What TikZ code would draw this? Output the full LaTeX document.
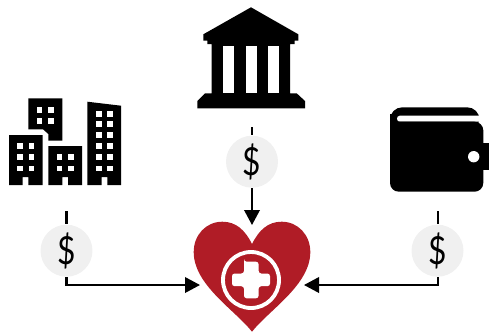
\documentclass[tikz,border=0pt]{standalone}
\usepackage{fontspec}
\setmainfont{Lato}
\usetikzlibrary{arrows.meta}
\definecolor{heartred}{HTML}{B01C26}
\definecolor{badgegray}{HTML}{F0F0F0}
\newcommand{\dollarsign}{\scalebox{0.82}[1]{\$}}
\tikzset{
  badge/.style={circle,fill=badgegray,minimum size=1.04cm,inner sep=0pt,font=\fontsize{22}{22}\selectfont},
  flow/.style={line width=1.15pt},
  flowtip/.style={flow,-{Triangle[length=0.3cm,width=0.31cm]}},
  pane/.style={fill=white}
}
\begin{document}
\begin{tikzpicture}[x=0.02cm,y=-0.02cm]
  \useasboundingbox (0,0) rectangle (489,332);
  % buildings
  \fill (9,135) -- (42.7,135) -- (42.7,185) -- (28.3,185) -- (28.3,177) -- (22.7,177) -- (22.7,185) -- (9,185) -- cycle;
  \fill (28.3,98.3) -- (62.3,98.3) -- (62.3,140.7) -- (48.3,140.7) -- (48.3,134) -- (43,129.3) -- (28.3,129.3) -- cycle;
  \fill (48.3,146) -- (82,146) -- (82,185) -- (68,185) -- (68,177) -- (62.3,177) -- (62.3,185) -- (48.3,185) -- cycle;
  \fill (87.3,101.7) -- (121,105.7) -- (121,185) -- (107.3,185) -- (107.3,177) -- (101.7,177) -- (101.7,185) -- (87.3,185) -- cycle;
  \foreach \y in {143.3,154.3,165.7}
    \foreach \x in {17.3,28.5}
      \fill[pane] (\x,\y) rectangle +(5.6,5.6);
  \foreach \y in {107.3,118.3}
    \foreach \x in {36.7,48.3}
      \fill[pane] (\x,\y) rectangle +(5.6,5.6);
  \foreach \y in {154.3,165.7}
    \foreach \x in {56.7,68}
      \fill[pane] (\x,\y) rectangle +(5.6,5.6);
  \foreach \y in {111.3,121,132.3,143.3,154.3,165.7}
    \foreach \x in {96,107.3}
      \fill[pane] (\x,\y) rectangle +(5.6,5.6);
  % bank
  \fill (251,7.3) -- (298.3,34.3) -- (298.3,40.7) -- (294.5,40.7) -- (294.5,44) -- (290,44) -- (290,93.3) -- (296.7,93.3)
    -- (305,101) -- (305,108.3) -- (197.3,108.3) -- (197.3,101) -- (205,93.3) -- (211.7,93.3) -- (211.7,44)
    -- (207.3,44) -- (207.3,40.7) -- (203.3,40.7) -- (203.3,34.3) -- cycle;
  \foreach \x in {223.3,245.7,268}
    \fill[pane] (\x,45.7) rectangle +(11,47.6);
  % wallet
  \fill[rounded corners=7pt] (390,107.3) rectangle (479.5,130);
  \fill (390,114) rectangle (400,140);
  \fill[pane,rounded corners=1.6pt] (397,115.7) rectangle (486,121.7);
  \fill[rounded corners=5pt] (390,121.7) rectangle (483.3,191.7);
  \fill (483,143) rectangle (489,170);
  \fill[pane] (473.7,156.7) circle (5.7);
  % heart
  \fill[heartred] (252,244) .. controls (245,230) and (236,221.7) .. (222.3,221.7)
    .. controls (206,221.7) and (193.7,235) .. (193.7,252)
    .. controls (193.7,285) and (235,310) .. (252,331.7)
    .. controls (269,310) and (310.3,285) .. (310.3,252)
    .. controls (310.3,235) and (298,221.7) .. (281.7,221.7)
    .. controls (268,221.7) and (259,230) .. (252,244) -- cycle;
  \draw[white,line width=2.2pt] (251,280) circle (28);
  \fill[pane,rounded corners=1.5pt] (244,261.7) -- (258.6,261.7) -- (258.6,273.5) -- (270,273.5) -- (270,286.2) -- (258.6,286.2)
    -- (258.6,298.3) -- (244,298.3) -- (244,286.2) -- (232,286.2) -- (232,273.5) -- (244,273.5) -- (244,261.7) -- cycle;
  % money flows
  \node[badge] (citybadge) at (66.5,250.7) {\dollarsign};
  \node[badge] (bankbadge) at (252,161.7) {\dollarsign};
  \node[badge] (walletbadge) at (437.5,250.7) {\dollarsign};
  \coordinate (citystub) at (66.5,211);
  \coordinate (bankstub) at (252,127);
  \coordinate (walletstub) at (437.5,211);
  \coordinate (heartleft) at (200,285);
  \coordinate (hearttop) at (252,225);
  \coordinate (heartright) at (304,285);
  \draw[flow] (citystub) -- (citybadge);
  \draw[flow] (bankstub) -- (bankbadge);
  \draw[flow] (walletstub) -- (walletbadge);
  \draw[flowtip] (citybadge) |- (heartleft);
  \draw[flowtip] (bankbadge) -- (hearttop);
  \draw[flowtip] (walletbadge) |- (heartright);
\end{tikzpicture}
\end{document}
